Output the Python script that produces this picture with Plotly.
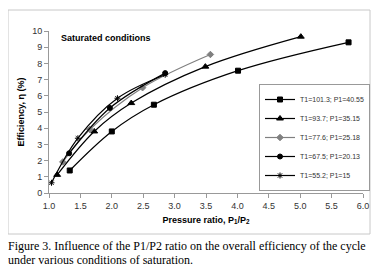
import plotly.graph_objects as go

# Data
names = ["T1=101.3; P1=40.55", "T1=93.7; P1=35.15", "T1=77.6; P1=25.18",
         "T1=67.5; P1=20.13", "T1=55.2; P1=15"]
x_s1 = [1.33, 2.0, 2.67, 4.01, 5.77]
y_s1 = [1.39, 3.8, 5.45, 7.55, 9.3]
x_s2 = [1.13, 1.72, 2.31, 3.49, 5.01]
y_s2 = [1.12, 3.8, 5.55, 7.8, 9.65]
x_s3 = [1.22, 1.65, 2.49, 3.57]
y_s3 = [1.92, 3.92, 6.5, 8.55]
x_s4 = [1.32, 1.97, 2.85]
y_s4 = [2.45, 5.25, 7.4]
x_s5 = [1.04, 1.46, 2.09, 2.85]
y_s5 = [0.63, 3.38, 5.85, 7.3]

# page body has an 8px margin, so figure coords = page coords - 8
OFF = 8
W, H = 373, 265
L, R, T, B = 41, 18, 23, 80
pw, ph = W - L - R, H - T - B

def px(x):
    return (x - OFF - L) / pw

def py(y):
    return (H - B - (y - OFF)) / ph

fig = go.Figure()
styles = [
    dict(color="#000000", symbol="square", size=5),
    dict(color="#000000", symbol="triangle-up", size=6),
    dict(color="#808080", symbol="diamond", size=5),
    dict(color="#000000", symbol="circle", size=5),
    dict(color="#000000", symbol="asterisk-open", size=5),
]
xs = [x_s1, x_s2, x_s3, x_s4, x_s5]
ys = [y_s1, y_s2, y_s3, y_s4, y_s5]
for i in range(5):
    st = styles[i]
    fig.add_trace(go.Scatter(
        x=xs[i], y=ys[i], name=names[i], mode="lines+markers",
        line=dict(color=st["color"], width=1.2, shape="spline"),
        marker=dict(symbol=st["symbol"], size=st["size"], color=st["color"],
                    line=dict(color=st["color"], width=1)),
    ))

fig.update_layout(
    width=W, height=H,
    margin=dict(l=L, r=R, t=T, b=B, autoexpand=False),
    paper_bgcolor="white", plot_bgcolor="white",
    font=dict(family="Liberation Sans, Arial", size=9, color="#333333"),
    showlegend=True,
    legend=dict(
        x=px(259), y=py(84), xanchor="left", yanchor="top",
        bordercolor="#999999", borderwidth=1, bgcolor="white",
        font=dict(size=7, color="#333333"),
        itemwidth=30, traceorder="normal",
    ),
    xaxis=dict(range=[1, 6], tickvals=[1, 1.5, 2, 2.5, 3, 3.5, 4, 4.5, 5, 5.5, 6],
               ticktext=["1.0", "1.5", "2.0", "2.5", "3.0", "3.5", "4.0", "4.5", "5.0", "5.5", "6.0"],
               showgrid=False, zeroline=False, showline=True, linecolor="#999999",
               ticks="outside", ticklen=4, tickcolor="#999999",
               title=dict(text="<b>Pressure ratio, P<sub>1</sub>/P<sub>2</sub></b>",
                          font=dict(size=9, color="#000000"), standoff=6)),
    yaxis=dict(range=[0, 10], dtick=1, showgrid=False, zeroline=False,
               showline=True, linecolor="#999999", ticks="outside", ticklen=4,
               tickcolor="#999999",
               title=dict(text="<b>Efficiency, η (%)</b>",
                          font=dict(size=9, color="#000000"), standoff=6)),
)

fig.add_shape(type="rect", xref="paper", yref="paper",
              x0=px(8), x1=px(370), y0=py(234), y1=py(10),
              line=dict(color="#c8c8c8", width=1), fillcolor="rgba(0,0,0,0)",
              layer="below")

fig.add_annotation(xref="paper", yref="paper", x=px(59), y=py(38),
                   xanchor="left", yanchor="middle", showarrow=False,
                   text="<b>Saturated conditions</b>",
                   font=dict(size=9, color="#000000"))

fig.add_annotation(xref="paper", yref="paper", x=px(6), y=py(246),
                   xanchor="left", yanchor="middle", showarrow=False, align="left",
                   text="Figure 3. Influence of the P1/P2 ratio on the overall efficiency of the cycle",
                   font=dict(family="Liberation Serif, Times New Roman", size=12, color="#000000"))
fig.add_annotation(xref="paper", yref="paper", x=px(6), y=py(260),
                   xanchor="left", yanchor="middle", showarrow=False, align="left",
                   text="under various conditions of saturation.",
                   font=dict(family="Liberation Serif, Times New Roman", size=12, color="#000000"))

fig.write_html("out.html")
